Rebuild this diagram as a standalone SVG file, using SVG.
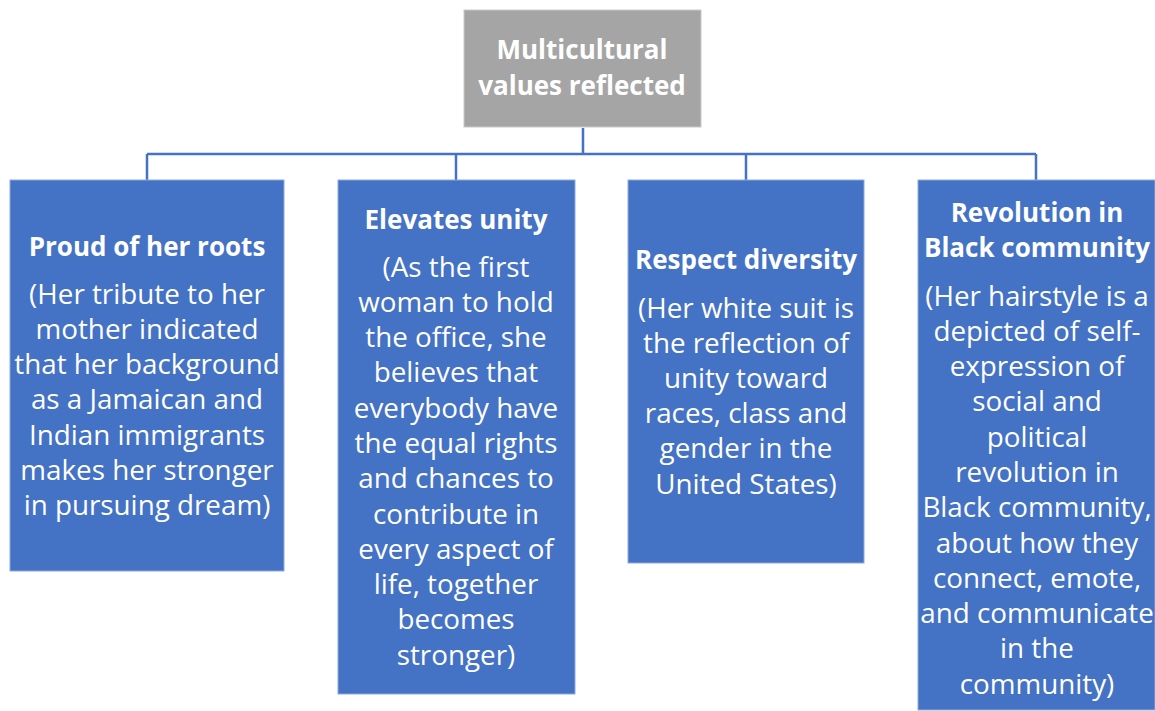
<svg xmlns="http://www.w3.org/2000/svg" width="1155" height="711" viewBox="0 0 1155 711">
<style>
.box{fill:#4472C4;stroke:#8EA9DB;stroke-width:1}
.top{fill:#A5A5A5;stroke:#C9C9C9;stroke-width:1}
.conn{fill:none;stroke:#4472C4;stroke-width:2.5}
text{font-family:"Open Sans","Liberation Sans",sans-serif;fill:#FFFFFF;text-anchor:middle;font-size:27.8px}
.b{font-weight:bold;font-size:26px}
</style>
<rect width="1155" height="711" fill="#FFFFFF"/>
<g id="connectors">
<path class="conn" d="M583,128 V154 M147,154 H1036 M147,154 V180 M456,154 V180 M746,154 V180 M1036,154 V180"/>
</g>
<g id="root">
<rect class="top" x="464" y="10" width="237" height="117"/>
<text class="b" x="582" y="59">Multicultural</text>
<text class="b" x="582" y="95">values reflected</text>
</g>
<g id="n1">
<rect class="box" x="10" y="180" width="274" height="391"/>
<text class="b" x="147" y="256">Proud of her roots</text>
<text x="147" y="304">(Her tribute to her</text>
<text x="147" y="339">mother indicated</text>
<text x="147" y="374">that her background</text>
<text x="147" y="409">as a Jamaican and</text>
<text x="147" y="445">Indian immigrants</text>
<text x="147" y="480">makes her stronger</text>
<text x="147" y="515">in pursuing dream)</text>
</g>
<g id="n2">
<rect class="box" x="338" y="180" width="237" height="514"/>
<text class="b" x="456" y="229">Elevates unity</text>
<text x="456" y="277">(As the first</text>
<text x="456" y="312">woman to hold</text>
<text x="456" y="347">the office, she</text>
<text x="456" y="382">believes that</text>
<text x="456" y="418">everybody have</text>
<text x="456" y="453">the equal rights</text>
<text x="456" y="488">and chances to</text>
<text x="456" y="524">contribute in</text>
<text x="456" y="559">every aspect of</text>
<text x="456" y="594">life, together</text>
<text x="456" y="629">becomes</text>
<text x="456" y="665">stronger)</text>
</g>
<g id="n3">
<rect class="box" x="628" y="180" width="236" height="383"/>
<text class="b" x="746" y="269">Respect diversity</text>
<text x="746" y="318">(Her white suit is</text>
<text x="746" y="353">the reflection of</text>
<text x="746" y="388">unity toward</text>
<text x="746" y="423">races, class and</text>
<text x="746" y="458">gender in the</text>
<text x="746" y="494">United States)</text>
</g>
<g id="n4">
<rect class="box" x="918" y="180" width="237" height="530"/>
<text class="b" x="1037" y="222">Revolution in</text>
<text class="b" x="1037" y="257">Black community</text>
<text x="1037" y="306">(Her hairstyle is a</text>
<text x="1037" y="341">depicted of self-</text>
<text x="1037" y="376">expression of</text>
<text x="1037" y="411">social and</text>
<text x="1037" y="447">political</text>
<text x="1037" y="482">revolution in</text>
<text x="1037" y="517">Black community,</text>
<text x="1037" y="553">about how they</text>
<text x="1037" y="588">connect, emote,</text>
<text x="1037" y="623">and communicate</text>
<text x="1037" y="658">in the</text>
<text x="1037" y="694">community)</text>
</g>
</svg>
